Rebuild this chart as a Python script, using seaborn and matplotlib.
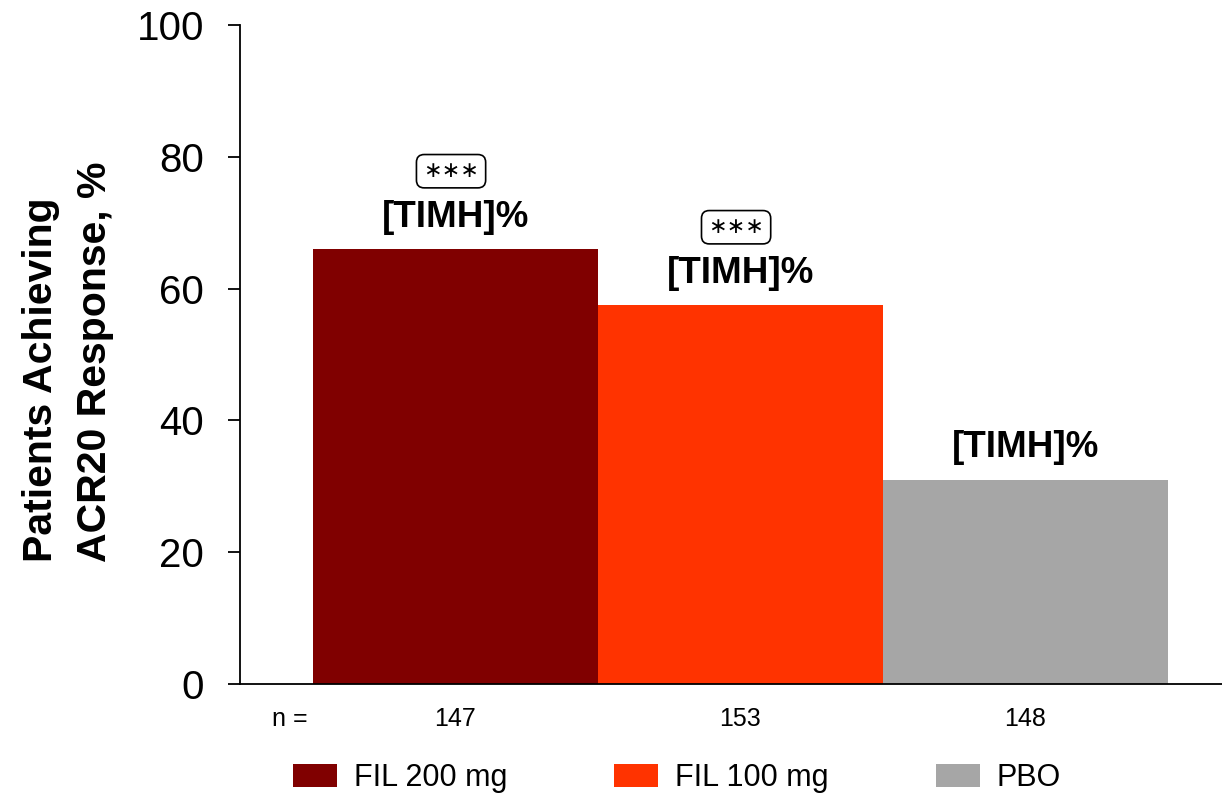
import matplotlib
matplotlib.use("Agg")
import matplotlib.pyplot as plt
from matplotlib.patches import Patch
import seaborn as sns
import pandas as pd

# Treatment arms, ACR20 response rates and sample sizes
arms = ["FIL 200 mg", "FIL 100 mg", "PBO"]
response_pct = [66, 57.5, 31]
n_patients = [147, 153, 148]
value_labels = ["[TIMH]%", "[TIMH]%", "[TIMH]%"]
significance = ["∗∗∗", "∗∗∗", ""]
colors = ["#800000", "#FF3300", "#A6A6A6"]

sns.set_theme(style="white")
plt.rcParams["font.family"] = ["Liberation Sans", "DejaVu Sans"]
plt.rcParams["text.color"] = "black"
plt.rcParams["axes.labelcolor"] = "black"
plt.rcParams["ytick.color"] = "black"

df = pd.DataFrame({"arm": arms, "pct": response_pct})

fig = plt.figure(figsize=(12.22, 8.02), dpi=100)
ax = fig.add_axes([0.1964, 0.1471, 0.8036, 0.8219])

sns.barplot(data=df, x="arm", y="pct", hue="arm", palette=colors,
            width=1.0, dodge=False, legend=False, saturation=1,
            linewidth=0, ax=ax)

ax.set_xlim(-0.755, 2.69)
ax.set_ylim(0, 100)
ax.set_yticks([0, 20, 40, 60, 80, 100])
ax.tick_params(axis="y", labelsize=29, length=9, width=1.3, direction="out",
               pad=17, colors="black", left=True)
ax.tick_params(axis="x", bottom=False, labelbottom=False)
ax.set_xlabel("")
ax.set_ylabel("")
for side in ["top", "right"]:
    ax.spines[side].set_visible(False)
for side in ["left", "bottom"]:
    ax.spines[side].set_color("black")
    ax.spines[side].set_linewidth(1.3)

# Value labels and significance markers above bars
for i, (v, lab, sig) in enumerate(zip(response_pct, value_labels, significance)):
    ax.annotate(lab, xy=(i, v), xytext=(0, 23), textcoords="offset points",
                ha="center", va="center", fontsize=26.5, fontweight="bold",
                color="black")
    if sig:
        ax.annotate(sig, xy=(i, v), xytext=(-3, 56), textcoords="offset points",
                    ha="center", va="center", fontsize=16, color="black",
                    family="DejaVu Sans",
                    bbox=dict(boxstyle="round,pad=0.3,rounding_size=0.35",
                              fc="white", ec="black", lw=1.2))

# Sample sizes below the axis
ax.annotate("n =", xy=(-0.58, 0), xytext=(0, -25),
            textcoords="offset points", ha="center", va="center", fontsize=18)
for i, n in enumerate(n_patients):
    ax.annotate(str(n), xy=(i, 0), xytext=(0, -25), textcoords="offset points",
                ha="center", va="center", fontsize=18)

# Y axis title
fig.text(68 / 1222, 1 - 362 / 802, "Patients Achieving\nACR20 Response, %",
         rotation=90, ha="center", va="center", multialignment="left",
         fontsize=29.5, fontweight="bold", linespacing=1.55, color="black")

# Legend
handles = [Patch(facecolor=c, edgecolor="none", label=a) for a, c in zip(arms, colors)]
fig.legend(handles=handles, loc="center", bbox_to_anchor=(0.554, 1 - 778 / 802),
           ncol=3, frameon=False, fontsize=22, handlelength=1.44, handleheight=0.75,
           columnspacing=3.5, handletextpad=0.55)

fig.savefig("out.png", dpi=100)
